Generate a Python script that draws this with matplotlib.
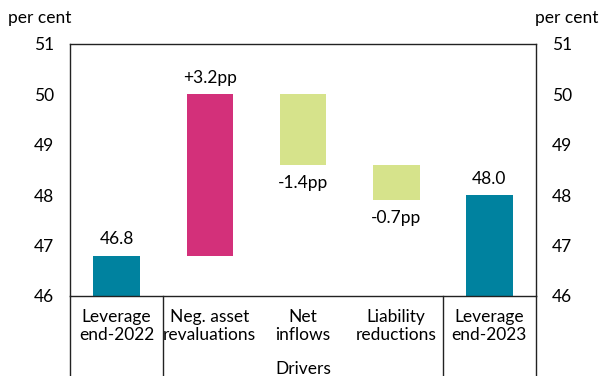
import matplotlib
matplotlib.use("Agg")
import matplotlib.pyplot as plt
from matplotlib.lines import Line2D

categories = ["Leverage\nend-2022", "Neg. asset\nrevaluations", "Net\ninflows",
              "Liability\nreductions", "Leverage\nend-2023"]
start_level = 46.8
changes = [3.2, -1.4, -0.7]
end_level = 48.0
value_labels = ["46.8", "+3.2pp", "-1.4pp", "-0.7pp", "48.0"]
y_ticks = [46, 47, 48, 49, 50, 51]

TEAL = "#00829F"
MAGENTA = "#D3307A"
LIME = "#D6E38B"
FS = 12.5

plt.rcParams["font.family"] = ["Lato", "DejaVu Sans"]
plt.rcParams["font.size"] = FS

fig = plt.figure(figsize=(6.01, 3.76), dpi=100)
L, R, B, T = 70 / 601, 536 / 601, 1 - 296 / 376, 1 - 44 / 376
ax = fig.add_axes([L, B, R - L, T - B])

base = 46.0
x = list(range(len(categories)))
width = 0.5

# waterfall: totals from the axis floor, drivers floating between levels
bottoms, heights, colors = [base], [start_level - base], [TEAL]
level = start_level
for c in changes:
    bottoms.append(level if c > 0 else level + c)
    heights.append(abs(c))
    colors.append(MAGENTA if c > 0 else LIME)
    level += c
bottoms.append(base)
heights.append(end_level - base)
colors.append(TEAL)

ax.bar(x, heights, bottom=bottoms, width=width, color=colors, zorder=2)

for i, (b, h, lab) in enumerate(zip(bottoms, heights, value_labels)):
    is_neg = 0 < i < len(categories) - 1 and changes[i - 1] < 0
    if is_neg:
        ax.text(i, b - 0.2, lab, ha="center", va="top", fontsize=FS)
    else:
        ax.text(i, b + h + 0.17, lab, ha="center", va="bottom", fontsize=FS)

ax.set_xlim(-0.5, len(categories) - 0.5)
ax.set_ylim(46, 51)
ax.set_yticks(y_ticks)
ax.set_xticks([])
ax.tick_params(axis="y", length=0, pad=11.5, labelsize=FS,
               left=True, right=True, labelleft=True, labelright=True)
for s in ax.spines.values():
    s.set_linewidth(1.0)
    s.set_color("#222222")

# category labels and separators below the plot area
for i, cat in enumerate(categories):
    ax.text(i, -0.05, cat, transform=ax.get_xaxis_transform(), ha="center",
            va="top", fontsize=FS, linespacing=1.22)
ax.text(2, -0.258, "Drivers", transform=ax.get_xaxis_transform(), ha="center",
        va="top", fontsize=FS)
for xs in [-0.5, 0.5, 3.5, 4.5]:
    ax.add_line(Line2D([xs, xs], [0, -0.4], transform=ax.get_xaxis_transform(),
                       color="#222222", lw=1.0, clip_on=False))

fig.text(8 / 601, 1 - 18 / 376, "per cent", ha="left", va="center", fontsize=FS)
fig.text(598 / 601, 1 - 18 / 376, "per cent", ha="right", va="center", fontsize=FS)

fig.savefig("out.png", dpi=100)
